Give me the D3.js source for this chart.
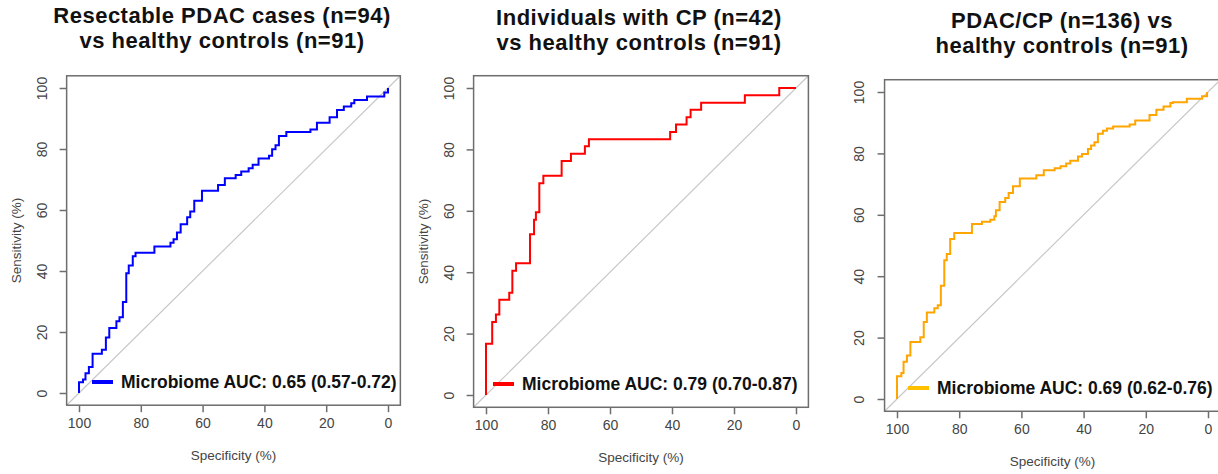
<html>
<head>
  <title>ROC curves</title>
  <script src="https://d3js.org/d3.v7.min.js"></script>
  <style>
    body { margin: 0; background: #fff; }
    text { font-family: Arial, "Liberation Sans", sans-serif; }
  </style>
</head>
<body>
  <script>

	// tick labels
	var specTicks = [100, 80, 60, 40, 20, 0];
	var sensTicks = [0, 20, 40, 60, 80, 100];

	// step corners (specificity %, sensitivity %)
	var pdacSpec = [100, 100, 98.7, 97.9, 96.8, 95.6, 92.6, 91.3, 90.2, 87.9, 86.9, 85.8, 84.7, 83.9, 82.6, 81.7, 75.6, 70.4, 69.4, 68.3, 67.1, 65, 64, 62.7, 60.2, 55, 52.8, 49.3, 47.5, 45.1, 43.8, 41.9, 38.5, 37.5, 36.4, 35.3, 32.9, 25.1, 23, 18.9, 16.5, 14.3, 11.9, 10.9, 6.8, 1.2, 0];
	var pdacSens = [0, 3.5, 4.4, 6.5, 8.5, 12.9, 14.2, 18.2, 21.3, 23.5, 24.8, 29.8, 39.3, 41.8, 44.8, 46, 48, 49.3, 50.4, 52.6, 55.3, 57.6, 59.5, 63, 66.3, 68.2, 70.4, 71.5, 72.6, 73.7, 74.8, 76.9, 77.8, 79.9, 81.2, 84.3, 85.6, 86.4, 88.6, 90.4, 92.8, 93.9, 95, 96.1, 97.2, 98.5, 100];

	var cpSpec = [100, 100, 98, 96.8, 95.7, 92.5, 91.5, 90.3, 85.8, 84.5, 83.9, 82.8, 81.5, 75.6, 72.6, 68.1, 66.8, 40.6, 38.7, 35.3, 34, 30.6, 16.5, 5.4, 0];
	var cpSens = [0, 16.7, 23.8, 26.2, 31, 33.3, 40.5, 42.9, 52.4, 57.1, 59.5, 69, 71.4, 76.2, 78.6, 81, 83.3, 85.7, 88.1, 90.5, 92.9, 95.2, 97.6, 100, 100];

	var allSpec = [100, 100, 98.6, 97.9, 96.8, 95.7, 92.5, 91.4, 90.4, 88, 86.9, 85.9, 84.8, 84, 82.9, 81.6, 75.9, 72.7, 70, 68.7, 68.2, 67, 65.2, 64.1, 62.7, 60.5, 55.2, 52.8, 49.3, 47.4, 45.6, 44.3, 41.8, 40.5, 38.6, 37.6, 36.5, 35.4, 33.8, 32.5, 30.5, 25.2, 23.4, 18.8, 16.6, 14.3, 12.1, 11.3, 6.8, 1.9, 0.3];
	var allSens = [0, 7.4, 8.5, 12.1, 14.2, 18.6, 20.1, 25.1, 28.2, 29.6, 30.5, 36.9, 45.2, 47.2, 52.1, 54.1, 57, 57.7, 58.4, 59.5, 61.5, 64.2, 65.5, 67.1, 69.3, 71.8, 72.9, 74.5, 75.2, 75.8, 76.7, 77.6, 79, 79.8, 81.4, 82.6, 83.6, 86.4, 87.4, 88.1, 88.8, 89.4, 90.7, 92.5, 94.2, 95.3, 96.4, 96.7, 97.8, 98.6, 100];

	var titles = [
	  ['Resectable PDAC cases (n=94)', 'vs healthy controls (n=91)'],
	  ['Individuals with CP (n=42)', 'vs healthy controls (n=91)'],
	  ['PDAC/CP (n=136) vs', 'healthy controls (n=91)']
	];
	var aucLabels = ['Microbiome AUC: 0.65 (0.57-0.72)', 'Microbiome AUC: 0.79 (0.70-0.87)', 'Microbiome AUC: 0.69 (0.62-0.76)'];
	var curveColors = ['#0000ff', '#ff0000', '#ffa500'];
	var legendColors = ['#0000ff', '#ff0000', '#ffc000'];

	var series = [
	  d3.zip(pdacSpec, pdacSens),
	  d3.zip(cpSpec, cpSens),
	  d3.zip(allSpec, allSens)
	];

	// where each panel sits on the page
	var layout = [
	  {x100: 79,  x0: 388,  y0: 393, y100: 88, titleX: 222,  titleY: [23, 48], legX: 92,  yTitle: true},
	  {x100: 486, x0: 796,  y0: 395, y100: 88, titleX: 639,  titleY: [25, 50], legX: 493, yTitle: true},
	  {x100: 897, x0: 1208, y0: 399, y100: 92, titleX: 1062, titleY: [28, 53], legX: 908, yTitle: false}
	];

	var svg = d3.select('body')
	            .append('svg')
	              .attr('width', 1218)
	              .attr('height', 474);

	layout.forEach(function(L, i){
	    var x = d3.scaleLinear().domain([100, 0]).range([L.x100, L.x0]);
	    var y = d3.scaleLinear().domain([0, 100]).range([L.y0, L.y100]);
	    var fx0 = x(104), fx1 = x(-4), fy0 = y(104), fy1 = y(-4);
	    var g = svg.append('g');

	    // title
	    titles[i].forEach(function(t, k){
	      g.append('text')
	        .attr('x', L.titleX)
	        .attr('y', L.titleY[k])
	        .attr('text-anchor', 'middle')
	        .attr('font-size', 22)
	        .attr('letter-spacing', 0.5)
	        .attr('font-weight', 'bold')
	        .attr('fill', '#111')
	        .text(t);
	    });

	    var clipId = 'clip' + i;
	    svg.append('clipPath').attr('id', clipId)
	      .append('rect')
	        .attr('x', fx0).attr('y', fy0)
	        .attr('width', fx1 - fx0).attr('height', fy1 - fy0);

	    // chance diagonal
	    g.append('line')
	      .attr('clip-path', 'url(#' + clipId + ')')
	      .attr('x1', x(104)).attr('y1', y(-4))
	      .attr('x2', x(-4)).attr('y2', y(104))
	      .attr('stroke', '#c8c8c8')
	      .attr('stroke-width', 1.2);

	    // roc curve
	    var line = d3.line()
	      .x(function(d){ return x(d[0]); })
	      .y(function(d){ return y(d[1]); })
	      .curve(d3.curveStepAfter);

	    g.append('path')
	      .datum(series[i])
	      .attr('d', line)
	      .attr('fill', 'none')
	      .attr('stroke', curveColors[i])
	      .attr('stroke-width', 2);

	    // frame
	    g.append('rect')
	      .attr('x', fx0).attr('y', fy0)
	      .attr('width', fx1 - fx0).attr('height', fy1 - fy0)
	      .attr('fill', 'none')
	      .attr('stroke', '#6e6e6e')
	      .attr('stroke-width', 1.5);

	    // axes
	    var xAxis = g.append('g')
	      .attr('transform', 'translate(0,' + fy1 + ')')
	      .call(d3.axisBottom(x).tickValues(specTicks).tickSize(7).tickSizeOuter(0));
	    var yAxis = g.append('g')
	      .attr('transform', 'translate(' + fx0 + ',0)')
	      .call(d3.axisLeft(y).tickValues(sensTicks).tickSize(7).tickSizeOuter(0));

	    [xAxis, yAxis].forEach(function(a){
	      a.select('.domain').remove();
	      a.selectAll('line').attr('stroke', '#6e6e6e').attr('stroke-width', 1.5);
	      a.selectAll('text')
	        .attr('font-size', 14)
	        .attr('font-family', 'Arial, "Liberation Sans", sans-serif')
	        .attr('fill', '#444');
	    });
	    xAxis.selectAll('text')
	      .attr('y', 25 - 7)
	      .attr('dy', '0.35em');
	    yAxis.selectAll('text')
	      .attr('transform', 'rotate(-90)')
	      .attr('x', 0)
	      .attr('y', -25)
	      .attr('dy', '0.35em')
	      .attr('text-anchor', 'middle');

	    // axis titles
	    g.append('text')
	      .attr('x', (fx0 + fx1) / 2)
	      .attr('y', fy1 + 55)
	      .attr('text-anchor', 'middle')
	      .attr('font-size', 13.5)
	      .attr('fill', '#444')
	      .text('Specificity (%)');
	    if (L.yTitle) {
	      g.append('text')
	        .attr('transform', 'translate(' + (fx0 - 46) + ',' + (fy0 + fy1) / 2 + ') rotate(-90)')
	        .attr('text-anchor', 'middle')
	        .attr('font-size', 13.5)
	        .attr('fill', '#444')
	        .text('Sensitivity (%)');
	    }

	    // legend
	    var ly = y(0) - 11;
	    g.append('line')
	      .attr('x1', L.legX).attr('x2', L.legX + 21)
	      .attr('y1', ly).attr('y2', ly)
	      .attr('stroke', legendColors[i])
	      .attr('stroke-width', 4);
	    g.append('text')
	      .attr('x', L.legX + 29)
	      .attr('y', ly + 6)
	      .attr('font-size', 17.5)
	      .attr('font-weight', 'bold')
	      .attr('fill', '#111')
	      .text(aucLabels[i]);
	});

  </script>
</body>
</html>
